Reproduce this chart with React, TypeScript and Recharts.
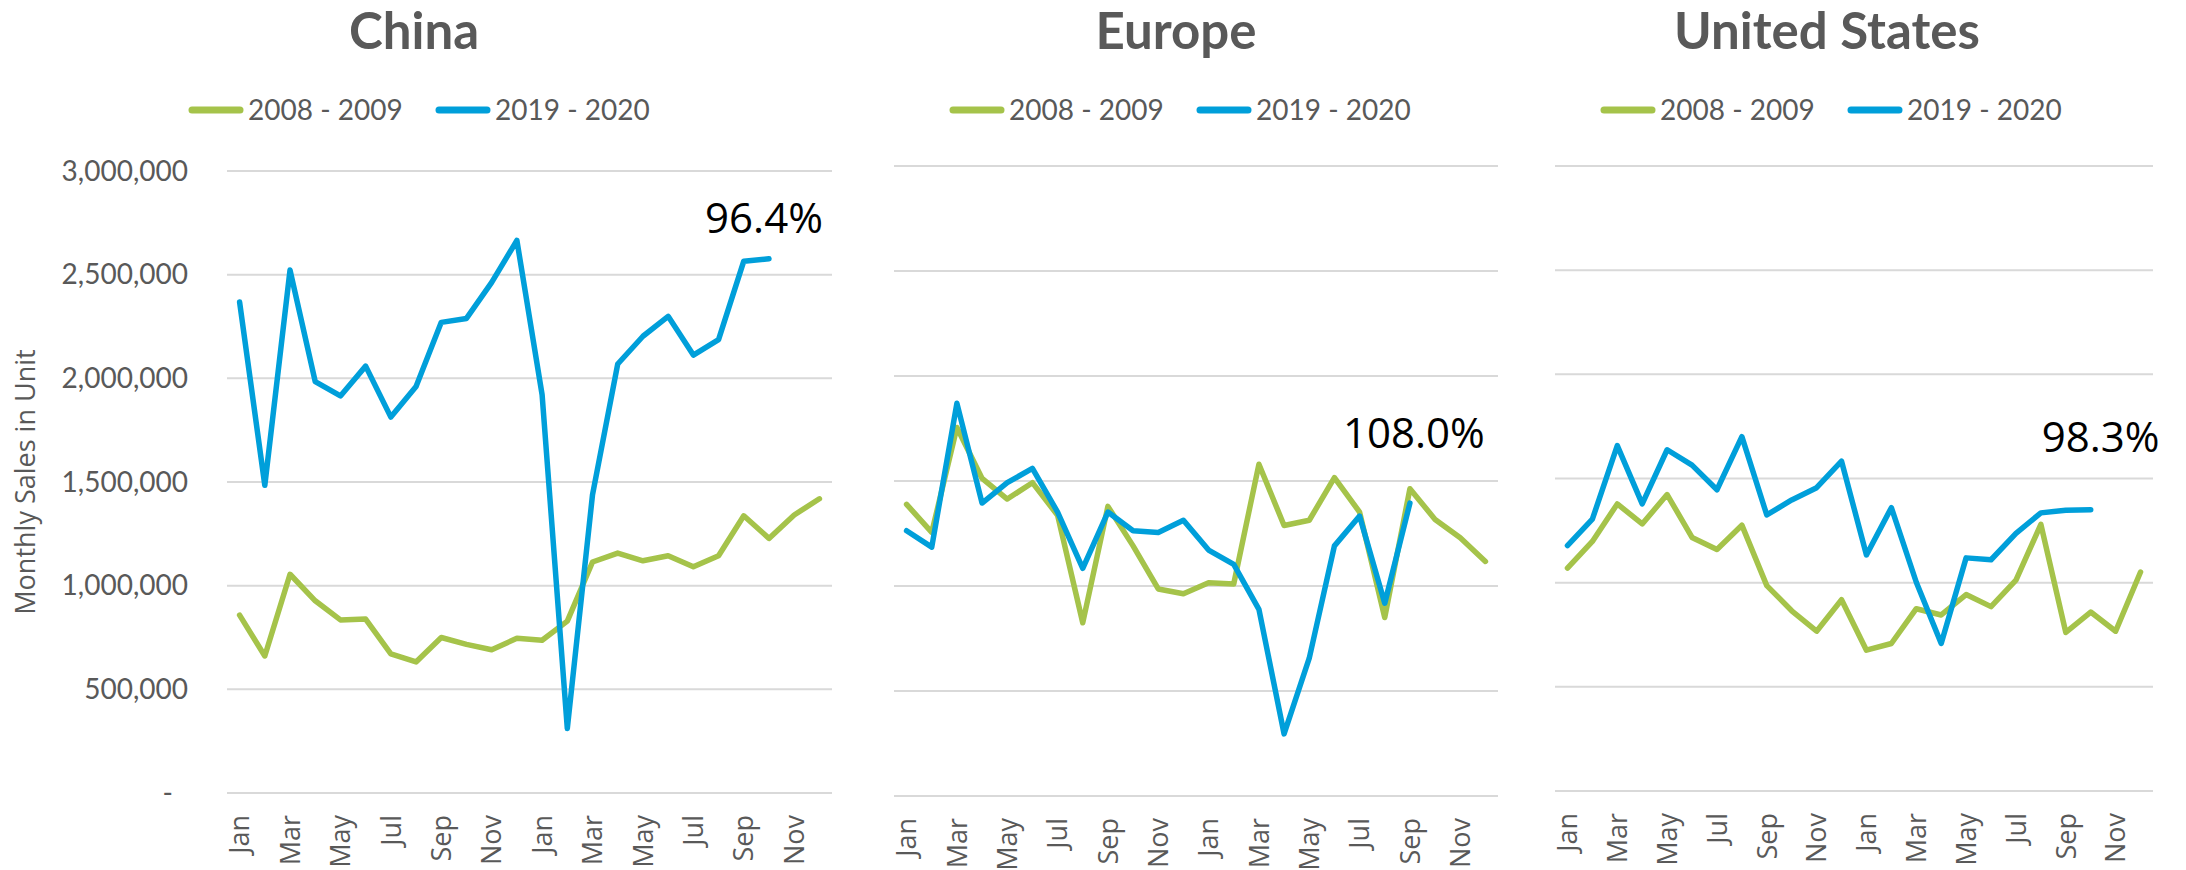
import { LineChart, Line, XAxis, YAxis, CartesianGrid, LabelList } from 'recharts';

const W = 2186;
const H = 870;
const GREEN = '#a5c34a';
const BLUE = '#009fda';
const GREY = '#595959';

const MONTHS = [
  'Jan', 'Feb', 'Mar', 'Apr', 'May', 'Jun', 'Jul', 'Aug', 'Sep', 'Oct', 'Nov', 'Dec',
  'Jan', 'Feb', 'Mar', 'Apr', 'May', 'Jun', 'Jul', 'Aug', 'Sep', 'Oct', 'Nov', 'Dec',
];
const SERIES_NAMES = ['2008 - 2009', '2019 - 2020'];
const Y_TICKS = [0, 500000, 1000000, 1500000, 2000000, 2500000, 3000000];
const TITLES = ['China', 'Europe', 'United States'];
const NOTES = ['96.4%', '108.0%', '98.3%'];
const Y_LABEL = 'Monthly Sales in Unit';

const CHINA_0809 = [
  858000, 661000, 1055000, 927000, 835000, 839000, 671000, 632000, 750000, 717000, 691000, 746000,
  737000, 829000, 1114000, 1157000, 1120000, 1144000, 1091000, 1144000, 1337000, 1228000, 1341000, 1419000,
];
const CHINA_1920 = [
  2368000, 1484000, 2522000, 1984000, 1915000, 2059000, 1813000, 1961000, 2270000, 2289000, 2463000, 2665000,
  1921000, 311000, 1439000, 2069000, 2203000, 2299000, 2112000, 2187000, 2565000, 2577000, null, null,
];
const EUROPE_0809 = [
  1389000, 1255000, 1755000, 1512000, 1414000, 1492000, 1337000, 825000, 1379000, 1191000, 986000, 963000,
  1016000, 1010000, 1580000, 1288000, 1313000, 1516000, 1352000, 850000, 1463000, 1317000, 1230000, 1117000,
];
const EUROPE_1920 = [
  1263000, 1185000, 1870000, 1395000, 1492000, 1560000, 1352000, 1084000, 1352000, 1263000, 1255000, 1313000,
  1171000, 1103000, 889000, 296000, 656000, 1191000, 1333000, 918000, 1395000, null, null, null,
];
const US_0809 = [
  1070000, 1198000, 1378000, 1282000, 1423000, 1217000, 1159000, 1276000, 986000, 865000, 767000, 918000,
  676000, 708000, 875000, 845000, 943000, 885000, 1012000, 1280000, 761000, 859000, 767000, 1051000,
];
const US_1920 = [
  1178000, 1305000, 1658000, 1378000, 1638000, 1564000, 1446000, 1701000, 1325000, 1397000, 1456000, 1583000,
  1133000, 1360000, 1002000, 708000, 1119000, 1110000, 1237000, 1335000, 1348000, 1350000, null, null,
];

// layout of each panel (plot box in page pixels)
const PANELS = [
  { a: CHINA_0809, b: CHINA_1920, left: 227, right: 832, top: 171, bottom: 793, titleX: 414, legendX: 188, showY: true, noteDx: -5, noteDy: -26 },
  { a: EUROPE_0809, b: EUROPE_1920, left: 894, right: 1498, top: 166, bottom: 796, titleX: 1176, legendX: 949, showY: false, noteDx: 4, noteDy: -55 },
  { a: US_0809, b: US_1920, left: 1555, right: 2153, top: 166, bottom: 791, titleX: 1827, legendX: 1600, showY: false, noteDx: 10, noteDy: -58 },
];

const buildRows = (a: (number | null)[], b: (number | null)[]) =>
  MONTHS.map((m, i) => ({ month: m, a: a[i], b: b[i] }));

const MonthTick = (props: any) => {
  const { x, y, payload } = props;
  return (
    <text
      x={x}
      y={y}
      dy="0.36em"
      transform={`rotate(-90 ${x} ${y})`}
      textAnchor="end"
      fill={GREY}
      fontFamily="'Open Sans'"
      fontSize={27}
    >
      {payload.value}
    </text>
  );
};

const ValueTick = (props: any) => {
  const { x, y, payload } = props;
  const v = payload.value as number;
  return (
    <text
      x={v === 0 ? x - 15 : x}
      y={y}
      dy="0.35em"
      textAnchor="end"
      fill={GREY}
      fontFamily="Lato"
      fontSize={28}
    >
      {v === 0 ? '-' : v.toLocaleString('en-US')}
    </text>
  );
};

function Panel({ p, note }: { p: (typeof PANELS)[number]; note: string }) {
  const xH = 60;
  const extra = 40;
  const leftRoom = p.showY ? 0 : 30;
  const chartLeft = p.showY ? 0 : p.left - leftRoom;
  const width = p.right + extra - chartLeft;
  const pad = (p.right - p.left) / 48;
  const rows = buildRows(p.a, p.b);
  const last = p.b.reduce((acc: number, v, i) => (v == null ? acc : i), -1);

  const renderNote = (lp: any) => {
    if (lp.index !== last) return null;
    return (
      <text
        x={Number(lp.x) + p.noteDx}
        y={Number(lp.y) + p.noteDy}
        textAnchor="middle"
        fill="#000"
        fontFamily="'Open Sans'"
        fontSize={42}
      >
        {note}
      </text>
    );
  };

  return (
    <div style={{ position: 'absolute', left: chartLeft, top: 0 }}>
      <LineChart
        width={width}
        height={H}
        data={rows}
        margin={{ top: p.top, right: extra, left: leftRoom, bottom: H - p.bottom - xH }}
      >
        <CartesianGrid vertical={false} stroke="#d9d9d9" strokeWidth={2} />
        <XAxis
          dataKey="month"
          interval={1}
          height={xH}
          axisLine={false}
          tickLine={false}
          tickSize={0}
          tickMargin={22}
          padding={{ left: pad, right: pad }}
          tick={<MonthTick />}
        />
        <YAxis
          domain={[0, 3000000]}
          ticks={Y_TICKS}
          width={p.showY ? p.left : 0}
          hide={!p.showY}
          axisLine={false}
          tickLine={false}
          tickSize={0}
          tickMargin={39}
          tick={<ValueTick />}
        />
        <Line
          type="linear"
          dataKey="a"
          name={SERIES_NAMES[0]}
          stroke={GREEN}
          strokeWidth={5.5}
          strokeLinecap="round"
          strokeLinejoin="round"
          dot={false}
          activeDot={false}
          isAnimationActive={false}
        />
        <Line
          type="linear"
          dataKey="b"
          name={SERIES_NAMES[1]}
          stroke={BLUE}
          strokeWidth={5.5}
          strokeLinecap="round"
          strokeLinejoin="round"
          dot={false}
          activeDot={false}
          isAnimationActive={false}
        >
          <LabelList dataKey="b" content={renderNote} />
        </Line>
      </LineChart>
    </div>
  );
}

export default function App() {
  return (
    <div style={{ position: 'absolute', left: 0, top: 0, width: W, height: H, background: '#fff', overflow: 'hidden' }}>
      {PANELS.map((p, i) => (
        <Panel key={TITLES[i]} p={p} note={NOTES[i]} />
      ))}
      <svg width={W} height={H} style={{ position: 'absolute', left: 0, top: 0, pointerEvents: 'none' }}>
        {PANELS.map((p, i) => (
          <g key={TITLES[i]}>
            <text x={p.titleX} y={49} textAnchor="middle" fill={GREY} fontFamily="Lato" fontWeight={700} fontSize={51}>
              {TITLES[i]}
            </text>
            {[GREEN, BLUE].map((c, k) => {
              const x0 = p.legendX + k * 247;
              return (
                <g key={c}>
                  <line x1={x0 + 4} x2={x0 + 52} y1={110} y2={110} stroke={c} strokeWidth={7} strokeLinecap="round" />
                  <text x={x0 + 60} y={120} fill={GREY} fontFamily="Lato" fontSize={28}>
                    {SERIES_NAMES[k]}
                  </text>
                </g>
              );
            })}
          </g>
        ))}
        <text
          x={35}
          y={482}
          transform="rotate(-90 35 482)"
          textAnchor="middle"
          fill={GREY}
          fontFamily="'Open Sans'"
          fontSize={27}
        >
          {Y_LABEL}
        </text>
      </svg>
    </div>
  );
}
